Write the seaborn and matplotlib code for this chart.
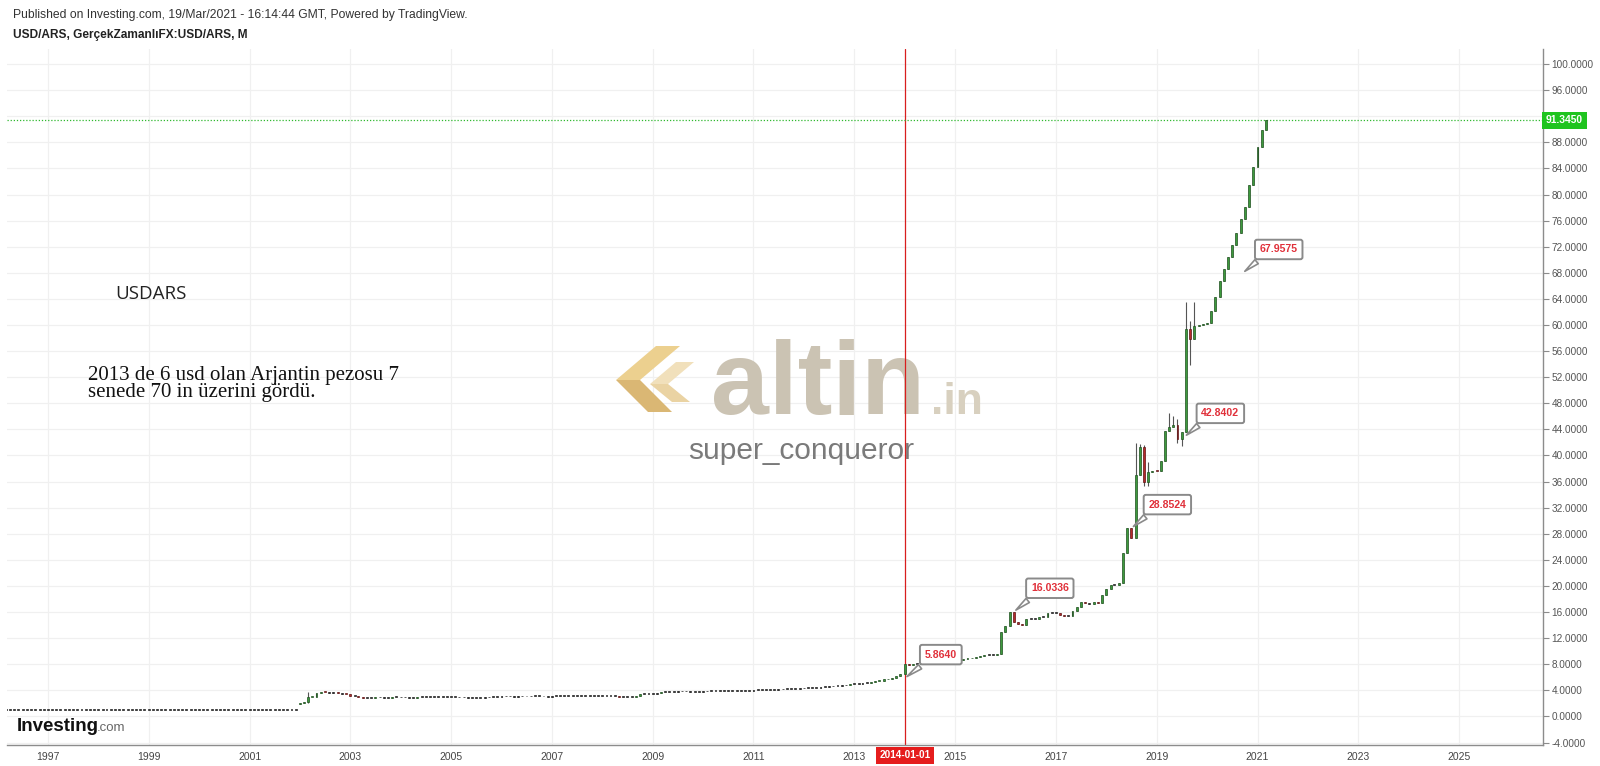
import pandas as pd
import matplotlib
matplotlib.use("Agg")
import matplotlib.pyplot as plt
import matplotlib.dates as mdates
import matplotlib.transforms as mtransforms
from matplotlib.patches import Polygon
import seaborn as sns

# monthly closes of USD/ARS (Jan..Dec)
close_1996 = [1.00, 1.00, 1.00, 1.00, 1.00, 1.00, 1.00, 1.00, 1.00, 1.00, 1.00, 1.00]
close_1997 = [1.00, 1.00, 1.00, 1.00, 1.00, 1.00, 1.00, 1.00, 1.00, 1.00, 1.00, 1.00]
close_1998 = [1.00, 1.00, 1.00, 1.00, 1.00, 1.00, 1.00, 1.00, 1.00, 1.00, 1.00, 1.00]
close_1999 = [1.00, 1.00, 1.00, 1.00, 1.00, 1.00, 1.00, 1.00, 1.00, 1.00, 1.00, 1.00]
close_2000 = [1.00, 1.00, 1.00, 1.00, 1.00, 1.00, 1.00, 1.00, 1.00, 1.00, 1.00, 1.00]
close_2001 = [1.00, 1.00, 1.00, 1.00, 1.00, 1.00, 1.00, 1.00, 1.00, 1.00, 1.00, 1.00]
close_2002 = [2.05, 2.20, 2.95, 3.05, 3.55, 3.80, 3.70, 3.65, 3.68, 3.55, 3.50, 3.40]
close_2003 = [3.20, 3.15, 2.95, 2.85, 2.85, 2.82, 2.92, 2.95, 2.90, 2.86, 2.97, 2.93]
close_2004 = [2.91, 2.93, 2.86, 2.84, 2.96, 2.96, 2.96, 3.00, 2.98, 2.97, 2.95, 2.97]
close_2005 = [2.94, 2.93, 2.92, 2.91, 2.88, 2.88, 2.86, 2.89, 2.91, 2.97, 2.96, 3.03]
close_2006 = [3.09, 3.07, 3.08, 3.05, 3.07, 3.08, 3.07, 3.09, 3.10, 3.09, 3.07, 3.06]
close_2007 = [3.10, 3.10, 3.10, 3.08, 3.08, 3.09, 3.15, 3.16, 3.15, 3.17, 3.14, 3.15]
close_2008 = [3.16, 3.16, 3.17, 3.17, 3.06, 3.02, 3.03, 3.03, 3.12, 3.40, 3.39, 3.45]
close_2009 = [3.48, 3.55, 3.72, 3.73, 3.75, 3.80, 3.83, 3.84, 3.84, 3.82, 3.81, 3.80]
close_2010 = [3.84, 3.86, 3.87, 3.88, 3.92, 3.93, 3.93, 3.95, 3.96, 3.95, 3.98, 3.97]
close_2011 = [4.01, 4.04, 4.05, 4.08, 4.09, 4.11, 4.14, 4.19, 4.20, 4.23, 4.27, 4.30]
close_2012 = [4.35, 4.37, 4.38, 4.42, 4.49, 4.53, 4.60, 4.65, 4.70, 4.76, 4.83, 4.92]
close_2013 = [4.98, 5.05, 5.12, 5.19, 5.28, 5.39, 5.51, 5.67, 5.79, 5.91, 6.13, 6.52]
close_2014 = [8.02, 7.87, 8.00, 8.00, 8.08, 8.13, 8.16, 8.40, 8.46, 8.50, 8.53, 8.55]
close_2015 = [8.64, 8.73, 8.82, 8.90, 9.01, 9.09, 9.25, 9.37, 9.43, 9.50, 9.65, 12.95]
close_2016 = [13.88, 16.00, 14.45, 14.20, 14.00, 15.00, 15.00, 14.95, 15.25, 15.20, 15.85, 15.85]
close_2017 = [15.90, 15.50, 15.40, 15.40, 16.10, 16.80, 17.60, 17.35, 17.30, 17.60, 17.40, 18.60]
close_2018 = [19.60, 20.20, 20.20, 20.50, 25.00, 28.85, 27.40, 37.00, 41.30, 36.00, 37.50, 37.70]
close_2019 = [37.60, 39.20, 43.80, 44.30, 44.60, 42.60, 43.60, 59.40, 57.90, 59.90, 60.00, 60.10]
close_2020 = [60.30, 62.20, 64.30, 66.80, 68.60, 70.40, 72.30, 74.10, 76.20, 78.10, 81.50, 84.20]
close_2021 = [87.30, 89.90, 91.345]

# opens that do not equal the previous close (gaps)
open_gaps = {"2002-01-01": 1.95}

# visible wicks
high_wicks = {"2002-03-01": 3.80, "2016-03-01": 16.03, "2018-08-01": 41.90,
              "2018-09-01": 41.80, "2018-10-01": 41.60, "2018-11-01": 39.00,
              "2019-04-01": 46.50, "2019-05-01": 46.00, "2019-06-01": 45.60,
              "2019-08-01": 63.50, "2019-09-01": 60.60, "2019-10-01": 63.50}
low_wicks = {"2002-03-01": 2.10, "2018-10-01": 35.30, "2018-11-01": 35.30,
             "2019-06-01": 41.90, "2019-07-01": 41.50, "2019-09-01": 53.80}

# price labels placed on the chart
label_dates = ["2014-01-01", "2016-03-01", "2018-07-01", "2019-07-20", "2020-09-15"]
label_values = [5.8640, 16.0336, 28.8524, 42.8402, 67.9575]

last_price = 91.345
year_ticks = [1997, 1999, 2001, 2003, 2005, 2007, 2009, 2011, 2013, 2015,
              2017, 2019, 2021, 2023, 2025]
price_ticks = [-4, 0, 4, 8, 12, 16, 20, 24, 28, 32, 36, 40, 44, 48, 52, 56, 60,
               64, 68, 72, 76, 80, 84, 88, 92, 96, 100]

closes = (close_1996 + close_1997 + close_1998 + close_1999 + close_2000 + close_2001
          + close_2002 + close_2003 + close_2004 + close_2005 + close_2006 + close_2007
          + close_2008 + close_2009 + close_2010 + close_2011 + close_2012 + close_2013
          + close_2014 + close_2015 + close_2016 + close_2017 + close_2018 + close_2019
          + close_2020 + close_2021)
dates = pd.date_range("1996-01-01", periods=len(closes), freq="MS")
df = pd.DataFrame({"date": dates, "close": closes})
df["open"] = df["close"].shift(1).fillna(df["close"].iloc[0])
for d, v in open_gaps.items():
    df.loc[df["date"] == pd.Timestamp(d), "open"] = v
df["high"] = df[["open", "close"]].max(axis=1)
df["low"] = df[["open", "close"]].min(axis=1)
for d, v in high_wicks.items():
    df.loc[df["date"] == pd.Timestamp(d), "high"] = v
for d, v in low_wicks.items():
    df.loc[df["date"] == pd.Timestamp(d), "low"] = v

diff = df["close"] - df["open"]
df["body"] = diff.abs().clip(lower=0.14)
df["bottom"] = df[["open", "close"]].min(axis=1)
face = ["#222222" if abs(x) < 0.08 else ("#3d9a3d" if x > 0 else "#b52a2a") for x in diff]
edge = ["#222222" if abs(x) < 0.08 else ("#1f4f1f" if x > 0 else "#5e1414") for x in diff]

sns.set_theme(style="whitegrid", rc={"grid.color": "#f0f0f0", "grid.linewidth": 0.9,
                                     "axes.edgecolor": "#8c8c8c"})
plt.rcParams["font.family"] = ["Liberation Sans", "DejaVu Sans"]

W, H = 1600, 766
fig = plt.figure(figsize=(16, 7.66), dpi=100)
ax = fig.add_axes([7 / W, 1 - 745 / H, 1536 / W, 696 / H])
ax.set_axisbelow(True)


def fx(px):
    return px / W


def fy(py):
    return 1 - py / H


# watermark (altin.in logo + user name)
icon_parts = [
    ([(656, 346), (680, 346), (640, 380), (616, 380)], "#ecd08f"),
    ([(616, 380), (640, 380), (672, 412), (648, 412)], "#dab774"),
    ([(676, 362), (694, 362), (668, 384), (650, 384)], "#f1e0bb"),
    ([(650, 384), (668, 384), (690, 402), (672, 402)], "#ead3a3"),
]
for pts, col in icon_parts:
    ax.add_patch(Polygon([(fx(a), fy(b)) for a, b in pts], closed=True,
                         transform=fig.transFigure, fc=col, ec="none",
                         zorder=1, clip_on=False))
ax.text(fx(711), fy(414), "altin", transform=fig.transFigure, fontsize=75,
        fontweight="bold", color="#cbc3b3", ha="left", va="baseline", zorder=1)
ax.text(fx(931), fy(414), ".in", transform=fig.transFigure, fontsize=32,
        fontweight="bold", color="#d8d0bf", ha="left", va="baseline", zorder=1)
ax.text(fx(801), fy(451), "super_conqueror", transform=fig.transFigure,
        fontsize=21.5, color="#7a7a7a", ha="center", va="center", zorder=1)

# candles
ax.vlines(df["date"], df["low"], df["high"], color="#555555", lw=0.8, zorder=3)
ax.bar(df["date"], df["body"], bottom=df["bottom"], width=14, color=face,
       edgecolor=edge, linewidth=0.5, zorder=4)

d2014 = pd.Timestamp("2014-01-01")
ax.axvline(d2014, color="#d81e1e", lw=0.9, zorder=2)
ax.axhline(last_price, color="#2fb82f", lw=0.9, ls=(0, (1, 1.5)), zorder=2)

# price labels
for d, v in zip(label_dates, label_values):
    ax.annotate(f"{v:.4f}", xy=(mdates.date2num(pd.Timestamp(d)), v),
                xytext=(26, 17), textcoords="offset points",
                fontsize=7.6, fontweight="bold", color="#e0303a",
                ha="center", va="center", zorder=6,
                bbox=dict(boxstyle="round,pad=0.45,rounding_size=0.2", fc="white",
                          ec="#8a8a8a", lw=1.4),
                arrowprops=dict(arrowstyle="wedge,tail_width=0.5,shrink_factor=0.5",
                                fc="white", ec="#8a8a8a", lw=1.2,
                                relpos=(0.15, 0.0)))

ax.set_xlim(pd.Timestamp("1996-03-10"), pd.Timestamp("2026-09-01"))
ax.set_ylim(-4.37, 102.3)
ax.set_xticks([pd.Timestamp(f"{y}-01-01") for y in year_ticks])
ax.set_xticklabels([str(y) for y in year_ticks])
ax.set_yticks(price_ticks)
# the 92 label sits under the last-price badge
ax.set_yticklabels(["" if v == 92 else f"{v:.4f}" for v in price_ticks])
ax.yaxis.tick_right()
ax.grid(True, axis="both")
for s in ["left", "top"]:
    ax.spines[s].set_visible(False)
ax.spines["right"].set_linewidth(1.0)
ax.spines["bottom"].set_linewidth(1.0)
ax.tick_params(axis="y", length=4, width=0.8, color="#8c8c8c", labelsize=7.2,
               labelcolor="#555555", pad=2, right=True, left=False)
ax.tick_params(axis="x", length=0, labelsize=7.5, labelcolor="#444444", pad=5)

# last price and crosshair date badges
ax.text(1.002, last_price, "91.3450",
        transform=mtransforms.blended_transform_factory(ax.transAxes, ax.transData),
        ha="left", va="center", color="white", fontweight="bold", fontsize=7.4,
        bbox=dict(boxstyle="square,pad=0.35", fc="#1fc41f", ec="none"),
        zorder=10, clip_on=False)
ax.text(d2014, -0.0148, "2014-01-01",
        transform=mtransforms.blended_transform_factory(ax.transData, ax.transAxes),
        ha="center", va="center", color="white", fontweight="bold", fontsize=7.2,
        bbox=dict(boxstyle="square,pad=0.35", fc="#e51d1d", ec="none"),
        zorder=10, clip_on=False)

# notes written on the chart
ax.text(fx(115), fy(294), "USDARS", transform=fig.transFigure, fontsize=13.5,
        family=["Open Sans", "DejaVu Sans"], color="#222222", ha="left", va="center")
ax.text(fx(88), fy(384), "2013 de 6 usd olan Arjantin pezosu 7\nsenede 70 in üzerini gördü.",
        transform=fig.transFigure, fontsize=15, family=["Liberation Serif", "DejaVu Serif"],
        color="#111111", ha="left", va="center", linespacing=0.92)

# header and source logo
fig.text(fx(13), fy(15), "Published on Investing.com, 19/Mar/2021 - 16:14:44 GMT, Powered by TradingView.",
         fontsize=8.7, color="#333333", ha="left", va="center")
fig.text(fx(13), fy(35), "USD/ARS, GerçekZamanlıFX:USD/ARS, M",
         fontsize=8.6, fontweight="bold", color="#222222", ha="left", va="center")
fig.text(fx(17), fy(731), "Investing", fontsize=13.5, fontweight="bold",
         color="#111111", ha="left", va="baseline")
fig.text(fx(97), fy(731), ".com", fontsize=9.5, color="#666666", ha="left", va="baseline")

fig.savefig("out.png", dpi=100, facecolor="white")
